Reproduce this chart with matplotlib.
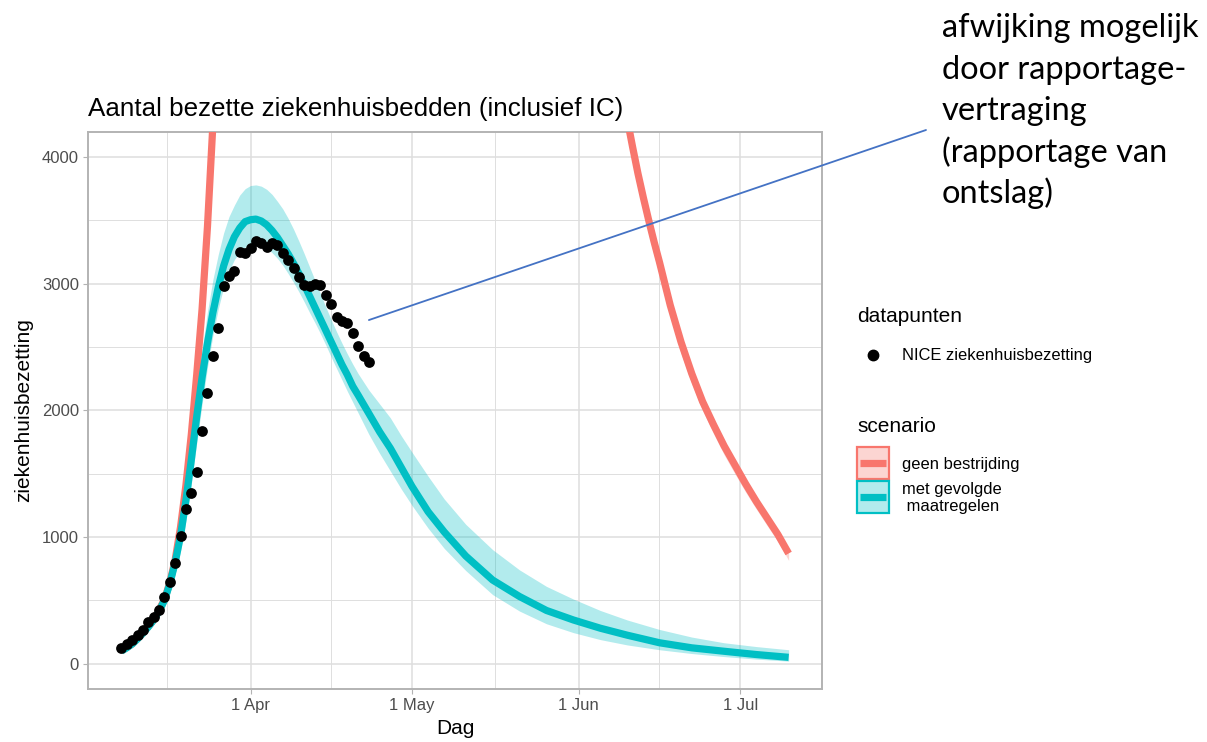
import numpy as np
import pandas as pd
import matplotlib
matplotlib.use("Agg")
import matplotlib.pyplot as plt
import matplotlib.dates as mdates
from matplotlib.patches import Rectangle, ConnectionPatch
from matplotlib.lines import Line2D

plt.rcParams['font.family'] = ['Liberation Sans', 'DejaVu Sans']

# day 0 = 1 April 2020
START = pd.Timestamp('2020-04-01')

# NICE datapoints, one per day starting at day -24 (8 March)
nice_first_day = -24
nice_beds = [124, 157, 184, 223, 268, 328, 368, 425, 530, 643, 795, 1005, 1223,
             1346, 1517, 1837, 2136, 2433, 2651, 2979, 3057, 3102, 3254, 3241,
             3281, 3341, 3320, 3293, 3320, 3307, 3241, 3189, 3123, 3052, 2992,
             2984, 3000, 2992, 2908, 2840, 2738, 2703, 2690, 2612, 2506, 2428, 2383]

# scenario "met gevolgde maatregelen"
model_days = [-24, -23, -22, -21, -20, -19, -18, -17, -16, -15, -14, -13, -12, -11,
              -10, -9, -8, -7, -6, -5, -4, -3, -2, -1, 0, 1, 2, 3, 4, 5, 6, 7, 8,
              9, 10, 11, 12, 13, 14, 15, 16, 17, 18, 19, 20, 22, 24, 26, 28, 30,
              33, 36, 40, 45, 50, 55, 60, 65, 70, 76, 82, 88, 94, 100]
model_mid = [100, 125, 155, 195, 240, 290, 345, 415, 500, 630, 800, 1010, 1290, 1610,
             1950, 2260, 2530, 2770, 2970, 3140, 3270, 3370, 3440, 3490, 3505, 3510,
             3495, 3465, 3420, 3365, 3300, 3235, 3160, 3080, 2990, 2900, 2810, 2720,
             2630, 2540, 2450, 2360, 2280, 2190, 2120, 1975, 1830, 1700, 1550, 1400,
             1200, 1040, 850, 660, 530, 420, 345, 280, 225, 165, 125, 98, 72, 50]
model_hi = [110, 135, 170, 215, 265, 320, 385, 465, 560, 710, 900, 1150, 1450, 1800,
            2150, 2480, 2780, 3030, 3230, 3400, 3530, 3620, 3700, 3750, 3775, 3780,
            3770, 3745, 3705, 3650, 3590, 3515, 3430, 3335, 3235, 3130, 3025, 2920,
            2815, 2715, 2620, 2530, 2445, 2365, 2290, 2160, 2050, 1940, 1800, 1670,
            1480, 1300, 1100, 900, 740, 610, 510, 420, 345, 270, 210, 165, 135, 110]
model_lo = [90, 115, 140, 175, 215, 260, 310, 370, 445, 560, 710, 890, 1130, 1420,
            1740, 2050, 2340, 2590, 2800, 2970, 3100, 3190, 3250, 3290, 3310, 3310,
            3300, 3280, 3245, 3200, 3145, 3080, 3010, 2935, 2855, 2770, 2690, 2605,
            2515, 2420, 2330, 2240, 2150, 2065, 1980, 1810, 1660, 1520, 1380, 1250,
            1070, 910, 735, 545, 415, 315, 245, 190, 148, 110, 80, 56, 36, 20]

# scenario "geen bestrijding" (only the parts inside the view)
red_rise_days = [-24, -22, -20, -18, -16, -15, -14, -13, -12, -11, -10, -9, -8, -7, -6]
red_rise = [100, 155, 240, 345, 505, 640, 820, 1080, 1410, 1810, 2280, 2800, 3450, 4250, 5200]
red_fall_days = [69, 70, 71, 72, 73, 74, 75, 76, 78, 80, 82, 84, 86, 88, 90, 92, 94, 96, 98, 100]
red_fall = [4550, 4300, 4080, 3870, 3680, 3500, 3330, 3170, 2830, 2540, 2290, 2070,
            1890, 1720, 1570, 1420, 1280, 1150, 1020, 870]
red_fall_lo = [4420, 4180, 3960, 3750, 3570, 3390, 3220, 3070, 2740, 2450, 2210, 2000,
               1820, 1650, 1500, 1355, 1220, 1090, 965, 815]
red_fall_hi = [4600, 4350, 4130, 3920, 3730, 3550, 3380, 3215, 2870, 2580, 2325, 2100,
               1915, 1745, 1590, 1440, 1300, 1165, 1035, 885]

x_breaks = ['2020-04-01 00:00', '2020-05-01 00:00', '2020-06-01 00:00', '2020-07-01 00:00']
x_labels = ['1 Apr', '1 May', '1 Jun', '1 Jul']
x_minor = ['2020-03-16 12:00', '2020-04-16 00:00', '2020-05-16 12:00', '2020-06-16 00:00']
y_breaks = [0, 1000, 2000, 3000, 4000]
y_minor = [500, 1500, 2500, 3500]

note_lines = ['afwijking mogelijk', 'door rapportage-', 'vertraging',
              '(rapportage van', 'ontslag)']

RED = '#F8766D'
TEAL = '#00BFC4'
GRID = '#DEDEDE'
BORDER = '#B3B3B3'


def to_dates(days):
    return START + pd.to_timedelta(np.asarray(days, dtype=float), unit='D')


W, H = 1207, 742
fig = plt.figure(figsize=(W / 100, H / 100), dpi=100)


def fx(px):
    return px / W


def fy(py):
    return 1 - py / H


ax = fig.add_axes([fx(88), fy(689), fx(822) - fx(88), fy(131.7) - fy(689)])

# scenario bands and lines
ax.fill_between(to_dates(red_fall_days), red_fall_lo, red_fall_hi, color=RED, alpha=0.3, lw=0, zorder=2)
ax.plot(to_dates(red_rise_days), red_rise, color=RED, lw=5.2, solid_capstyle='butt', zorder=3)
ax.plot(to_dates(red_fall_days), red_fall, color=RED, lw=5.2, solid_capstyle='butt', zorder=3)
ax.fill_between(to_dates(model_days), model_lo, model_hi, color=TEAL, alpha=0.3, lw=0, zorder=4)
ax.plot(to_dates(model_days), model_mid, color=TEAL, lw=5.2, solid_capstyle='butt', zorder=5)

nice_days = np.arange(len(nice_beds)) + nice_first_day
ax.scatter(to_dates(nice_days), nice_beds, s=60, color='black', lw=0, zorder=6)

ax.set_xlim(to_dates([-30.2])[0], to_dates([106.2])[0])
ax.set_ylim(-200, 4200)

ax.set_xticks(pd.to_datetime(x_breaks, format='%Y-%m-%d %H:%M'))
ax.set_xticklabels(x_labels)
ax.set_xticks(pd.to_datetime(x_minor, format='%Y-%m-%d %H:%M'), minor=True)
ax.set_yticks(y_breaks)
ax.set_yticklabels([str(v) for v in y_breaks])
ax.set_yticks(y_minor, minor=True)

ax.grid(which='major', color=GRID, lw=1.1, zorder=0)
ax.grid(which='minor', color=GRID, lw=0.7, zorder=0)
ax.set_axisbelow(True)
for s in ax.spines.values():
    s.set_color(BORDER)
    s.set_linewidth(1.4)
ax.tick_params(which='major', length=3.5, width=0.8, color=BORDER, labelcolor='#4D4D4D',
               labelsize=12, pad=3)
ax.tick_params(which='minor', length=0)

ax.set_xlabel('Dag', fontsize=15, labelpad=4)
ax.set_ylabel('ziekenhuisbezetting', fontsize=15, labelpad=6)

fig.text(fx(88), fy(116), 'Aantal bezette ziekenhuisbedden (inclusief IC)',
         fontsize=18.7, va='baseline', ha='left')

# legend: datapunten
fig.text(fx(857), fy(317), 'datapunten', fontsize=15, va='center', ha='left')
fig.add_artist(Line2D([fx(873)], [fy(355)], marker='o', ms=7.5, color='black', lw=0))
fig.text(fx(902), fy(355), 'NICE ziekenhuisbezetting', fontsize=11.9, va='center', ha='left')

# legend: scenario
fig.text(fx(857), fy(427), 'scenario', fontsize=15, va='center', ha='left')
for top, col, lab in [(447, RED, 'geen bestrijding'), (481, TEAL, 'met gevolgde\n maatregelen')]:
    fig.add_artist(Rectangle((fx(857.5), fy(top + 32)), fx(889) - fx(857.5), fy(top) - fy(top + 32),
                             transform=fig.transFigure, facecolor=col, alpha=0.3, lw=0))
    fig.add_artist(Rectangle((fx(857.5), fy(top + 32)), fx(889) - fx(857.5), fy(top) - fy(top + 32),
                             transform=fig.transFigure, facecolor='none', edgecolor=col, lw=1.6))
    fig.add_artist(Line2D([fx(860), fx(886.5)], [fy(top + 16), fy(top + 16)], color=col, lw=5.2,
                          solid_capstyle='butt'))
    fig.text(fx(902), fy(top + 17), lab, fontsize=11.9, va='center', ha='left', linespacing=1.1)

# annotation
con = ConnectionPatch(xyA=(mdates.date2num(to_dates([22])[0]), 2713), coordsA=ax.transData,
                      xyB=(fx(926), fy(130)), coordsB=fig.transFigure,
                      color='#4472C4', lw=1.3)
fig.add_artist(con)
for i, line in enumerate(note_lines):
    fig.text(fx(942), fy(37 + 41.6 * i), line, fontsize=23.5, va='baseline', ha='left',
             family=['Lato', 'DejaVu Sans'])

fig.savefig('out.png', dpi=100)
